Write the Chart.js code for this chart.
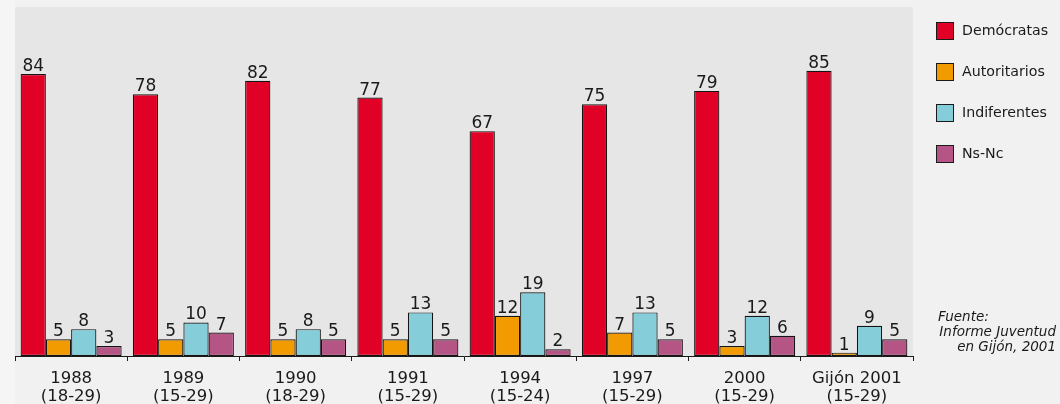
<!DOCTYPE html>
<html>
<head>
<meta charset="utf-8">
<script src="https://cdn.jsdelivr.net/npm/chart.js@4/dist/chart.umd.min.js"></script>
<style>
  html, body { margin: 0; padding: 0; background: #f2f2f2; }
  #wrap { width: 1060px; height: 404px; position: relative; }
</style>
</head>
<body>
<div id="wrap"><canvas id="c" width="1060" height="404"></canvas></div>
<script>
// Survey waves (year and age range of respondents)
const categories = [
  ['1988', '(18-29)'],
  ['1989', '(15-29)'],
  ['1990', '(18-29)'],
  ['1991', '(15-29)'],
  ['1994', '(15-24)'],
  ['1997', '(15-29)'],
  ['2000', '(15-29)'],
  ['Gijón 2001', '(15-29)']
];

// Percentages per attitude group
const democratas   = [84, 78, 82, 77, 67, 75, 79, 85];
const autoritarios = [5, 5, 5, 5, 12, 7, 3, 1];
const indiferentes = [8, 10, 8, 13, 19, 13, 12, 9];
const nsnc         = [3, 7, 5, 5, 2, 5, 6, 5];

const seriesNames = ['Demócratas', 'Autoritarios', 'Indiferentes', 'Ns-Nc'];
const seriesColors = ['#e10026', '#f29b00', '#85cdd9', '#b55586'];

const sourceLines = ['Fuente:', 'Informe Juventud', 'en Gijón, 2001'];

const FONT = '"DejaVu Sans", "Liberation Sans", sans-serif';

// Page and plot-area backgrounds
const backgroundPlugin = {
  id: 'backgrounds',
  beforeDraw(chart) {
    const { ctx, chartArea: a } = chart;
    ctx.save();
    ctx.fillStyle = '#f1f1f1';
    ctx.fillRect(0, 0, chart.width, chart.height);
    ctx.fillStyle = '#f5f5f5';
    ctx.fillRect(0, 0, a.left, chart.height);
    ctx.fillStyle = '#e6e6e6';
    ctx.fillRect(a.left, a.top, a.right - a.left, a.bottom - a.top);
    ctx.restore();
  }
};

// Value printed above every bar
const valueLabelPlugin = {
  id: 'valueLabels',
  afterDatasetsDraw(chart) {
    const { ctx } = chart;
    ctx.save();
    ctx.font = '17px ' + FONT;
    ctx.fillStyle = '#1a1a1a';
    ctx.textAlign = 'center';
    ctx.textBaseline = 'alphabetic';
    chart.data.datasets.forEach((ds, i) => {
      const meta = chart.getDatasetMeta(i);
      meta.data.forEach((bar, j) => {
        ctx.fillText(String(ds.data[j]), bar.x, bar.y - 3);
      });
    });
    ctx.restore();
  }
};

// Legend column and source note on the right
const sideTextPlugin = {
  id: 'sideText',
  afterDraw(chart) {
    const { ctx } = chart;
    ctx.save();
    const boxX = 936, boxSize = 18, rowTop = 22, rowStep = 41;
    chart.data.datasets.forEach((ds, i) => {
      const y = rowTop + i * rowStep;
      ctx.fillStyle = ds.backgroundColor;
      ctx.fillRect(boxX, y, boxSize, boxSize);
      ctx.strokeStyle = '#1a1a1a';
      ctx.lineWidth = 1;
      ctx.strokeRect(boxX + 0.5, y + 0.5, boxSize - 1, boxSize - 1);
      ctx.fillStyle = '#1a1a1a';
      ctx.font = '14.2px ' + FONT;
      ctx.textAlign = 'left';
      ctx.textBaseline = 'middle';
      ctx.fillText(ds.label, 962, y + boxSize / 2 + 0.5);
    });

    ctx.font = 'italic 13.5px ' + FONT;
    ctx.fillStyle = '#1a1a1a';
    ctx.textBaseline = 'middle';
    ctx.textAlign = 'left';
    ctx.fillText(sourceLines[0], 938, 317);
    ctx.textAlign = 'right';
    ctx.fillText(sourceLines[1], 1056, 332);
    ctx.fillText(sourceLines[2], 1056, 347);
    ctx.restore();
  }
};

const seriesData = [democratas, autoritarios, indiferentes, nsnc];

new Chart(document.getElementById('c'), {
  type: 'bar',
  data: {
    labels: categories,
    datasets: seriesData.map((d, i) => ({
      label: seriesNames[i],
      data: d,
      backgroundColor: seriesColors[i],
      borderColor: '#141414',
      borderWidth: 1.2,
      borderSkipped: false,
      categoryPercentage: 0.9,
      barPercentage: 1.0
    }))
  },
  options: {
    responsive: false,
    animation: false,
    devicePixelRatio: 1,
    layout: { padding: { left: 15, right: 147, top: 7, bottom: 0 } },
    plugins: {
      legend: { display: false },
      tooltip: { enabled: false }
    },
    scales: {
      x: {
        offset: true,
        grid: {
          offset: true,
          drawOnChartArea: false,
          drawTicks: true,
          tickLength: 5,
          color: '#1a1a1a',
          lineWidth: 1
        },
        border: { display: true, color: '#1a1a1a', width: 1 },
        ticks: {
          color: '#1a1a1a',
          padding: 8,
          maxRotation: 0,
          autoSkip: false,
          font: { family: FONT, size: 16.5, lineHeight: 1.12 }
        },
        afterFit(scale) { scale.height = 48; }
      },
      y: {
        display: false,
        min: 0,
        max: 104
      }
    }
  },
  plugins: [backgroundPlugin, valueLabelPlugin, sideTextPlugin]
});
</script>
</body>
</html>
